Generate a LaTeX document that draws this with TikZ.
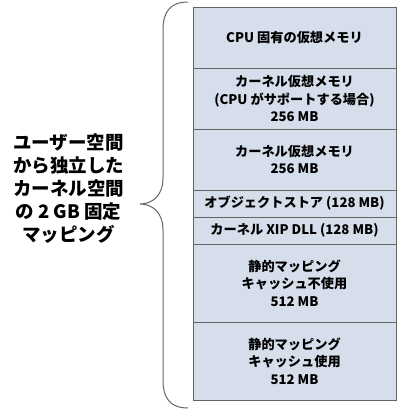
\documentclass[tikz,border=0pt]{standalone}
\usepackage{fontspec}
\newfontfamily\jpfont{Noto Sans CJK JP}
\usepackage{tikz}
\usetikzlibrary{positioning,calc}

\definecolor{memfill}{RGB}{214,222,236}
\definecolor{memline}{RGB}{100,100,100}

\tikzset{
  membox/.style={draw=memline,fill=memfill,line width=0.8pt,rectangle,
    minimum width=203pt,inner sep=0pt,outer sep=0pt,align=center,
    font=\jpfont\bfseries\fontsize{13.2}{17.5}\selectfont},
  bigbox/.style={membox,minimum height=61pt},
  thinbox/.style={membox,minimum height=27pt},
  tallbox/.style={membox,minimum height=78pt}
}

\begin{document}
\begin{tikzpicture}[x=1pt,y=-1pt]
      \useasboundingbox (0,0) rectangle (400,410);

      \coordinate (T) at (294.5,7);

      \node[bigbox,below=0pt of T] (cpu) {CPU 固有の仮想メモリ};
      \node[bigbox,below=0pt of cpu] (kvcpu) {カーネル仮想メモリ\\(CPU がサポートする場合)\\256 MB};
      \node[bigbox,below=0pt of kvcpu] (kv) {カーネル仮想メモリ\\256 MB};
      \node[thinbox,below=0pt of kv] (obj) {オブジェクトストア (128 MB)};
      \node[thinbox,below=0pt of obj] (xip) {カーネル XIP DLL (128 MB)};
      \node[tallbox,below=0pt of xip] (nocache) {静的マッピング\\キャッシュ不使用\\512 MB};
      \node[tallbox,below=0pt of nocache] (cache) {静的マッピング\\キャッシュ使用\\512 MB};

      \coordinate (bt) at (188,2);
      \coordinate (bm) at (140,204);
      \coordinate (bb) at (188,408);

      \draw[memline,line width=1pt] (bt) .. controls (170,2) and (163,12) .. (163,30)
        -- (163,178) .. controls (163,196) and (152,204) .. (bm)
        .. controls (152,204) and (163,212) .. (163,230)
        -- (163,380) .. controls (163,398) and (170,408) .. (bb);

      \node[align=center,font=\jpfont\bfseries\fontsize{18.5}{23}\selectfont] (label) at (68.5,189)
        {ユーザー空間\\から独立した\\カーネル空間\\の 2 GB 固定\\マッピング};

\end{tikzpicture}
\end{document}
